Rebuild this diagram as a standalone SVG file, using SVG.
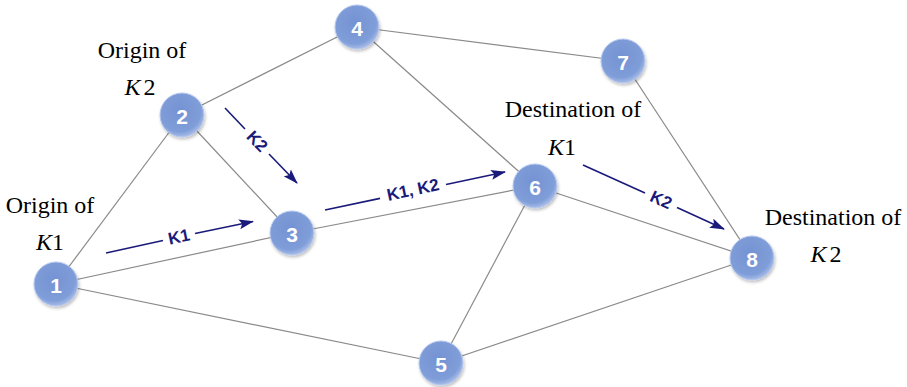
<svg xmlns="http://www.w3.org/2000/svg" width="907" height="387" viewBox="0 0 907 387">
<defs>
<radialGradient id="g" cx="0.45" cy="0.4" r="0.6">
<stop offset="0" stop-color="#7593d3"/>
<stop offset="0.8" stop-color="#7f9dd8"/>
<stop offset="1" stop-color="#a9bde8"/>
</radialGradient>
<filter id="sh" x="-30%" y="-30%" width="160%" height="160%">
<feDropShadow dx="1" dy="2" stdDeviation="1.5" flood-color="#000" flood-opacity="0.25"/>
</filter>
<marker id="ah" markerWidth="15" markerHeight="10" refX="14" refY="5" orient="auto" markerUnits="userSpaceOnUse" viewBox="0 0 15 10">
<path d="M0,0 L15,5 L0,10 L3,5 Z" fill="#1a1a7a"/>
</marker>
</defs>
<style>
.e{stroke:#8a8a8a;stroke-width:1.2;fill:none}
.a{stroke:#1a1a7a;stroke-width:1.6;fill:none}
.al{font-family:"Liberation Sans",Arial,sans-serif;font-weight:bold;font-size:17px;fill:#1a1a7a;text-anchor:middle;dominant-baseline:central}
.n circle{fill:url(#g);stroke:#b6c8ee;stroke-width:1;filter:url(#sh)}
.n text{font-family:"Liberation Sans",Arial,sans-serif;font-weight:bold;font-size:21px;fill:#fff;text-anchor:middle;dominant-baseline:central}
.t{font-family:"Liberation Serif","Times New Roman",serif;font-size:24px;fill:#000;text-anchor:middle}
.i{font-style:italic}
</style>
<g id="edges">
<line class="e" x1="56" y1="284" x2="182" y2="115"/>
<line class="e" x1="56" y1="284" x2="292" y2="233"/>
<line class="e" x1="56" y1="284" x2="441" y2="363"/>
<line class="e" x1="182" y1="115" x2="357" y2="27"/>
<line class="e" x1="182" y1="115" x2="292" y2="233"/>
<line class="e" x1="292" y1="233" x2="535" y2="186"/>
<line class="e" x1="357" y1="27" x2="623" y2="61"/>
<line class="e" x1="357" y1="27" x2="535" y2="186"/>
<line class="e" x1="535" y1="186" x2="441" y2="363"/>
<line class="e" x1="535" y1="186" x2="752" y2="258"/>
<line class="e" x1="623" y1="61" x2="752" y2="258"/>
<line class="e" x1="441" y1="363" x2="752" y2="258"/>
</g>
<g id="arrows">
<g id="arrow-k1">
<line class="a" x1="106" y1="253" x2="163" y2="240.5"/>
<line class="a" x1="195" y1="233.5" x2="253" y2="221.5" marker-end="url(#ah)"/>
<text class="al" x="179" y="237" transform="rotate(-12 179 237)">K1</text>
</g>
<g id="arrow-k2a">
<line class="a" x1="225" y1="108" x2="245" y2="129"/>
<line class="a" x1="269" y1="154" x2="297" y2="183" marker-end="url(#ah)"/>
<text class="al" x="257" y="141.5" transform="rotate(46 257 141.5)">K2</text>
</g>
<g id="arrow-k1k2">
<line class="a" x1="325" y1="210" x2="380" y2="198.4"/>
<line class="a" x1="446" y1="184.5" x2="505" y2="172" marker-end="url(#ah)"/>
<text class="al" x="413" y="190" transform="rotate(-12 413 190)">K1, K2</text>
</g>
<g id="arrow-k2b">
<line class="a" x1="583" y1="165" x2="645" y2="193"/>
<line class="a" x1="677" y1="207.5" x2="724" y2="229" marker-end="url(#ah)"/>
<text class="al" x="661" y="200" transform="rotate(25 661 200)">K2</text>
</g>
</g>
<g id="node1" class="n"><circle cx="56" cy="284" r="22"/><text x="56" y="285">1</text></g>
<g id="node2" class="n"><circle cx="182" cy="115" r="22"/><text x="182" y="116">2</text></g>
<g id="node3" class="n"><circle cx="292" cy="233" r="22"/><text x="292" y="234">3</text></g>
<g id="node4" class="n"><circle cx="357" cy="27" r="22"/><text x="357" y="28">4</text></g>
<g id="node5" class="n"><circle cx="441" cy="363" r="22"/><text x="441" y="364">5</text></g>
<g id="node6" class="n"><circle cx="535" cy="186" r="22"/><text x="535" y="187">6</text></g>
<g id="node7" class="n"><circle cx="623" cy="61" r="22"/><text x="623" y="62">7</text></g>
<g id="node8" class="n"><circle cx="752" cy="258" r="22"/><text x="752" y="259">8</text></g>
<g id="labels">
<text class="t" x="50" y="213">Origin of</text>
<text class="t" x="50" y="250"><tspan class="i">K</tspan>1</text>
<text class="t" x="142" y="58">Origin of</text>
<text class="t" x="140" y="95"><tspan class="i">K</tspan><tspan dx="3">2</tspan></text>
<text class="t" x="573" y="117">Destination of</text>
<text class="t" x="562" y="155"><tspan class="i">K</tspan>1</text>
<text class="t" x="833" y="225">Destination of</text>
<text class="t" x="826" y="262"><tspan class="i">K</tspan><tspan dx="3">2</tspan></text>
</g>
</svg>
